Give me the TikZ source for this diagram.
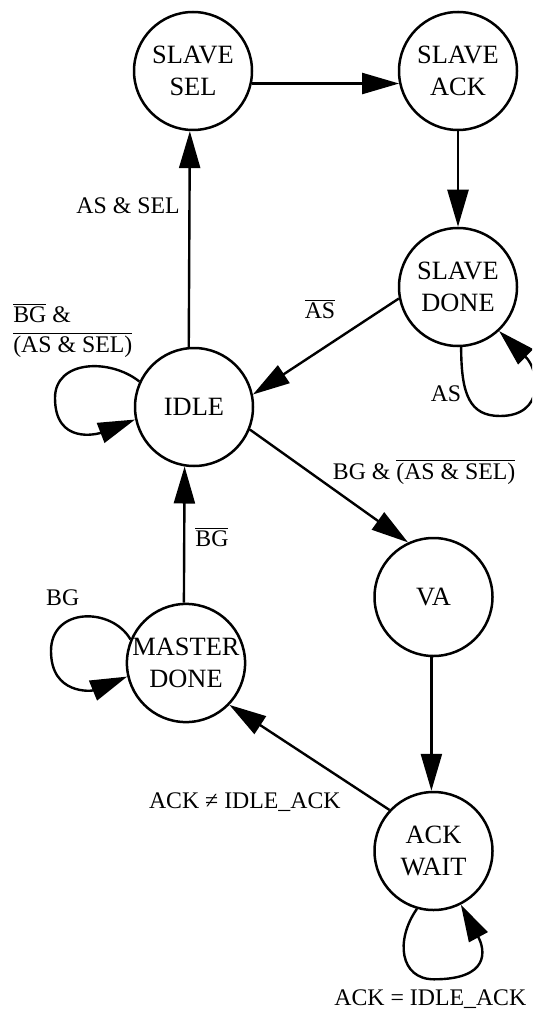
\documentclass[tikz,border=0pt]{standalone}
\usepackage{fontspec}
\setmainfont{Liberation Serif}
\usetikzlibrary{arrows.meta}
\begin{document}
\begin{tikzpicture}[x=0.5pt,y=-0.5pt,
  state/.style={circle,draw,line width=1.25pt,minimum size=59pt,inner sep=0pt,align=center,
    font=\fontsize{13.2}{16.3}\selectfont},
  lbl/.style={inner sep=0pt,font=\fontsize{11.9}{14.8}\selectfont},
  trans/.style={line width=1.2pt,-{Triangle[length=18.5pt,width=10.5pt]}}]
\useasboundingbox (0,0) rectangle (532,1010);
\clip (0,0) rectangle (532,1010);

% states
\node[state] (ssel)  at (193,71)    {SLAVE\\SEL};
\node[state] (sack)  at (458,71)    {SLAVE\\ACK};
\node[state] (sdone) at (458,287)   {SLAVE\\DONE};
\node[state] (idle)  at (194,407)   {IDLE};
\node[state] (va)    at (433.5,597) {VA};
\node[state] (md)    at (186,663)   {MASTER\\DONE};
\node[state] (aw)    at (433.5,851) {ACK\\WAIT};

% transitions
\draw[trans] (ssel.-12) -- (sack.192);
\draw[trans] (idle.95) -- (ssel.267);
\draw[trans] (sack.south) -- (sdone.north);
\draw[trans] (sdone.191) -- (idle.12);
\draw[trans] (idle.-22) -- (va.115);
\draw[trans] (md.92) -- (idle.261);
\draw[trans] (va.268) -- (aw.92);
\draw[trans] (aw.137) -- (md.-44);

% self loops
\coordinate (idleloop) at (55,398);
\draw[trans] (idle.155) .. controls +(-29.6,-23.6) and +(0,-38) .. (idleloop)
  .. controls +(0,47) and +(-37.3,14.5) .. (idle.192);
\coordinate (mdloop) at (51,651);
\draw[trans] (md.157) .. controls +(-18.8,-32.6) and +(0,-44) .. (mdloop)
  .. controls +(0,44) and +(-35.5,14.5) .. (md.193);
\coordinate (sdloop) at (500,416);
\draw[trans] (sdone.-87) .. controls +(0,48) and +(-30,0) .. (sdloop)
  .. controls +(45,0) and +(40.7,39.5) .. (sdone.-47);
\coordinate (awloop) at (434,979.3);
\draw[trans] (aw.-106) .. controls +(-22,31.3) and +(-34,0) .. (awloop)
  .. controls +(56,0) and +(24.5,45.4) .. (aw.-63);

% labels
\node[lbl,anchor=base east] (lassel) at (180,213.3) {AS \& SEL};
\node[lbl,anchor=base] (lnas) at (320,319) {$\overline{\hbox{AS}}$};
\node[lbl,anchor=base west] (lidle1) at (12.9,322.7) {$\overline{\hbox{BG}}$ \&};
\node[lbl,anchor=base west] (lidle2) at (12.9,352.3) {$\overline{\hbox{(AS \& SEL)}}$};
\node[lbl,anchor=base] (las) at (446,401.7) {AS};
\node[lbl,anchor=base west] (lva) at (332.5,479.3) {BG \& $\overline{\hbox{(AS \& SEL)}}$};
\node[lbl,anchor=base west] (lnbg) at (195,546.7) {$\overline{\hbox{BG}}$};
\node[lbl,anchor=base west] (lbg) at (45.8,605) {BG};
\node[lbl,anchor=base east] (lne) at (341,808.3) {ACK ≠ IDLE\_ACK};
\node[lbl,anchor=base west] (leq) at (334,1005.5) {ACK = IDLE\_ACK};
\end{tikzpicture}
\end{document}
